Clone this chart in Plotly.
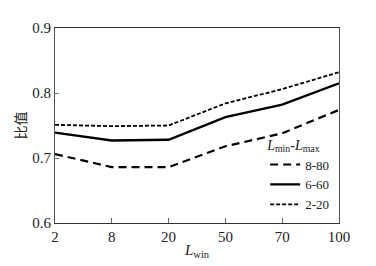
import plotly.graph_objects as go

categories = ["2", "8", "20", "50", "70", "100"]
s_8_80 = [0.706, 0.686, 0.686, 0.718, 0.738, 0.774]
s_6_60 = [0.739, 0.727, 0.728, 0.763, 0.782, 0.815]
s_2_20 = [0.751, 0.749, 0.750, 0.784, 0.806, 0.832]
y_ticks = [0.6, 0.7, 0.8, 0.9]

font_serif = "'Liberation Serif', 'Times New Roman', Times, serif"

fig = go.Figure()
fig.add_trace(go.Scatter(x=categories, y=s_8_80, mode="lines", name="8-80",
                         line=dict(color="black", width=2.2, dash="8px,5px")))
fig.add_trace(go.Scatter(x=categories, y=s_6_60, mode="lines", name="6-60",
                         line=dict(color="black", width=2.4)))
fig.add_trace(go.Scatter(x=categories, y=s_2_20, mode="lines", name="2-20",
                         line=dict(color="black", width=1.8, dash="4px,2px")))

fig.update_layout(
    width=376, height=266,
    margin=dict(l=44, r=45, t=15, b=51),
    paper_bgcolor="white", plot_bgcolor="white",
    font=dict(family=font_serif, size=15, color="#222"),
    legend=dict(
        title=dict(text="<i>L</i><sub>min</sub>-<i>L</i><sub>max</sub>",
                   font=dict(size=14, family=font_serif)),
        x=0.74, y=0.47, xanchor="left", yanchor="top",
        bgcolor="rgba(0,0,0,0)", font=dict(size=13, family=font_serif),
        itemwidth=30, tracegroupgap=0,
    ),
    xaxis=dict(
        type="category", categoryorder="array", categoryarray=categories,
        range=[0, 5], showgrid=False, zeroline=False,
        showline=True, linecolor="#333", linewidth=1.2, mirror=True,
        ticks="inside", ticklen=5, tickcolor="#666",
        tickfont=dict(size=15, family=font_serif),
        title=dict(text="<i>L</i><sub>win</sub>", font=dict(size=15, family=font_serif), standoff=0),
    ),
    yaxis=dict(
        range=[0.6, 0.9], tickvals=y_ticks, ticktext=["0.6", "0.7", "0.8", "0.9"],
        showgrid=False, zeroline=False,
        showline=True, linecolor="#555", linewidth=1.2, mirror=True,
        ticks="inside", ticklen=4, tickcolor="#777",
        tickfont=dict(size=15, family=font_serif),
        title=dict(text="比值", font=dict(size=14, family="Noto Sans CJK SC"), standoff=2),
    ),
)

fig.write_html("out.html")
